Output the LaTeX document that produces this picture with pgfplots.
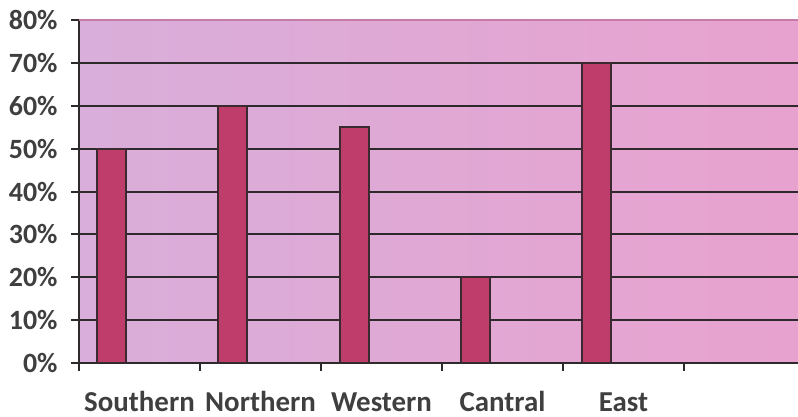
\documentclass[border=0pt]{standalone}
\usepackage{pgfplots}
\pgfplotsset{compat=1.18}
\usepackage{fontspec}
\setmainfont{Carlito}
\definecolor{bgL}{HTML}{D9AEDA}
\definecolor{bgR}{HTML}{E8A2CF}
\definecolor{barC}{HTML}{BF3D6A}
\definecolor{edgeC}{HTML}{3A2A30}
\definecolor{gridC}{HTML}{2E2A2C}
\definecolor{txt}{HTML}{3F3F3F}
\definecolor{topC}{HTML}{C47CA6}
\begin{document}
\begin{tikzpicture}
\begin{axis}[
  name=ax,
  scale only axis,
  width=719bp, height=343bp,
  xmin=-0.5, xmax=5.442,
  ymin=0, ymax=80,
  axis x line*=bottom,
  axis y line*=left,
  axis line style={gridC, line width=2bp},
  axis background/.style={left color=bgL, right color=bgR},
  tick align=outside,
  major tick length=8bp,
  tick style={gridC, line width=2bp},
  ytick={0,10,...,80},
  ymajorgrids,
  grid style={gridC, line width=2bp},
  /pgf/number format/assume math mode=true,
  yticklabel={\pgfmathprintnumber{\tick}\%},
  yticklabel style={font=\fontsize{28}{30}\selectfont\bfseries, text=txt, anchor=east, xshift=-10bp},
  xtick={-0.5,0.5,...,5.5},
  xticklabels={},
  extra x ticks={0,1,2,3,4},
  extra x tick labels={Southern,Northern,Western,Cantral,East},
  extra x tick style={major tick length=0pt, grid=none},
  xticklabel style={font=\fontsize{29}{30}\selectfont\bfseries, text=txt, anchor=base, yshift=-48bp},
  after end axis/.code={
    \draw[topC, line width=2bp] (rel axis cs:0,1) -- (rel axis cs:1,1);
  },
]
\addplot[ybar, bar width=29bp, bar shift=0pt, fill=barC, draw=edgeC, line width=2bp]
  coordinates {(-0.23,50) (0.77,60) (1.78,55) (2.78,20) (3.78,70)};
\end{axis}
\pgfresetboundingbox
\path[use as bounding box] (-79bp,-54bp) rectangle (719bp,363bp);
\end{tikzpicture}
\end{document}
